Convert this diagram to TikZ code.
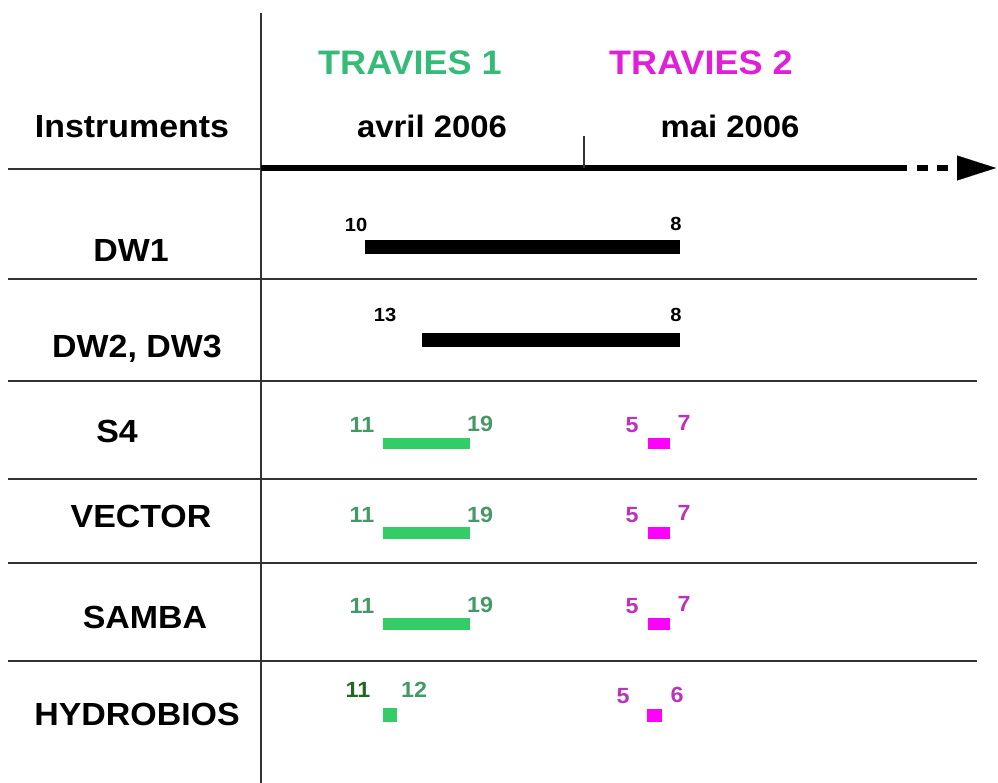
\documentclass[tikz,border=0pt]{standalone}
\usepackage{fontspec}
\setmainfont[FakeStretch=1.06]{Liberation Sans}
\usetikzlibrary{arrows.meta, positioning, calc}
\definecolor{rulegrey}{HTML}{333333}
\definecolor{travgreen}{HTML}{33BB77}
\definecolor{bargreen}{HTML}{33CC66}
\definecolor{numgreen}{HTML}{449966}
\definecolor{darkgreen}{HTML}{226622}
\definecolor{travmag}{HTML}{E020D8}
\definecolor{barmag}{HTML}{FF00FF}
\definecolor{nummag}{HTML}{BB33BB}
\tikzset{
    instr/.style={
        font=\bfseries\fontsize{32}{36}\selectfont,
        inner sep=0pt, anchor=base
    },
    campaign/.style={
        font=\bfseries\fontsize{34}{38}\selectfont,
        inner sep=0pt, anchor=base
    },
    month/.style={
        font=\bfseries\fontsize{31}{34}\selectfont,
        inner sep=0pt, anchor=base
    },
    daydw/.style={
        font=\bfseries\fontsize{19}{22}\selectfont,
        inner sep=0pt, anchor=base
    },
    dayone/.style={
        font=\bfseries\fontsize{22}{25}\selectfont,
        text=numgreen, inner sep=0pt, anchor=base
    },
    daytwo/.style={
        font=\bfseries\fontsize{22}{25}\selectfont,
        text=nummag, inner sep=0pt, anchor=base
    },
    bar/.style={
        rectangle, inner sep=0pt, draw=none, anchor=north west
    },
    rule/.style={draw=rulegrey, line width=2pt},
    axis/.style={line width=6pt, color=black}
}
\begin{document}
\begin{tikzpicture}[x=1pt, y=-1pt]

    \useasboundingbox (0,0) rectangle (998,783);

    % --- Grid ---
    \draw[rule] (261,13) -- (261,783);
    \draw[rule] (8,169) -- (261,169);
    \draw[rule] (8,279) -- (977,279);
    \draw[rule] (8,381) -- (977,381);
    \draw[rule] (8,479) -- (977,479);
    \draw[rule] (8,563) -- (977,563);
    \draw[rule] (8,661) -- (977,661);

    % --- Header ---
    \node[instr] (instr) at (132,138) {Instruments};
    \node[campaign, text=travgreen] (trav1) at (410,75) {TRAVIES 1};
    \node[campaign, text=travmag] (trav2) at (701,75) {TRAVIES 2};
    \node[month] (avril) at (432,138) {avril 2006};
    \node[month] (mai) at (730,138) {mai 2006};

    % --- Time axis ---
    \coordinate (axis0) at (261,168);
    \coordinate (axis1) at (907,168);
    \coordinate (axis2) at (996,168);
    \coordinate (tick0) at (584,136);
    \coordinate (tick1) at (584,168);
    \draw[axis] (axis0) -- (axis1);
    \draw[axis, dash pattern=on 0pt off 10pt on 11pt off 9pt on 11pt off 60pt,
        -{Triangle[length=39pt, width=25pt, line width=0.1pt]}] (axis1) -- (axis2);
    \draw[rule] (tick0) -- (tick1);

    % --- Row labels ---
    \node[instr] (dw1) at (131,262) {DW1};
    \node[instr] (dw23) at (137,357) {DW2, DW3};
    \node[instr] (s4) at (117,442) {S4};
    \node[instr] (vector) at (141,527) {VECTOR};
    \node[instr] (samba) at (145,628) {SAMBA};
    \node[instr] (hydro) at (137,725) {HYDROBIOS};

    % --- DW rows ---
    \node[bar, fill=black, minimum width=315pt, minimum height=14pt] (dw1_bar) at (365,240) {};
    \node[daydw] (dw1_a) at (356,232) {10};
    \node[daydw] (dw1_b) at (676,231) {8};
    \node[bar, fill=black, minimum width=258pt, minimum height=14pt] (dw23_bar) at (422,333) {};
    \node[daydw] (dw23_a) at (385,322) {13};
    \node[daydw] (dw23_b) at (676,322) {8};

    % --- S4 ---
    \node[bar, fill=bargreen, minimum width=87pt, minimum height=11pt] (s4_one) at (383,438) {};
    \node[bar, fill=barmag, minimum width=22pt, minimum height=11pt] (s4_two) at (648,438) {};
    \node[dayone] (s4_a) at (362,432) {11};
    \node[dayone] (s4_b) at (480,431) {19};
    \node[daytwo] (s4_c) at (632,432) {5};
    \node[daytwo] (s4_d) at (684,430) {7};

    % --- VECTOR ---
    \node[bar, fill=bargreen, minimum width=87pt, minimum height=12pt] (vector_one) at (383,527) {};
    \node[bar, fill=barmag, minimum width=22pt, minimum height=12pt] (vector_two) at (648,527) {};
    \node[dayone] (vector_a) at (362,522) {11};
    \node[dayone] (vector_b) at (480,522) {19};
    \node[daytwo] (vector_c) at (632,522) {5};
    \node[daytwo] (vector_d) at (684,520) {7};

    % --- SAMBA ---
    \node[bar, fill=bargreen, minimum width=87pt, minimum height=12pt] (samba_one) at (383,618) {};
    \node[bar, fill=barmag, minimum width=22pt, minimum height=12pt] (samba_two) at (648,618) {};
    \node[dayone] (samba_a) at (362,613) {11};
    \node[dayone] (samba_b) at (480,612) {19};
    \node[daytwo] (samba_c) at (632,613) {5};
    \node[daytwo] (samba_d) at (684,611) {7};

    % --- HYDROBIOS ---
    \node[bar, fill=bargreen, minimum width=14pt, minimum height=14pt] (hydro_one) at (383,708) {};
    \node[bar, fill=barmag, minimum width=15pt, minimum height=13pt] (hydro_two) at (647,709) {};
    \node[dayone, text=darkgreen] (hydro_a) at (358,697) {11};
    \node[dayone] (hydro_b) at (414,697) {12};
    \node[daytwo] (hydro_c) at (623,703) {5};
    \node[daytwo] (hydro_d) at (677,702) {6};

\end{tikzpicture}
\end{document}
